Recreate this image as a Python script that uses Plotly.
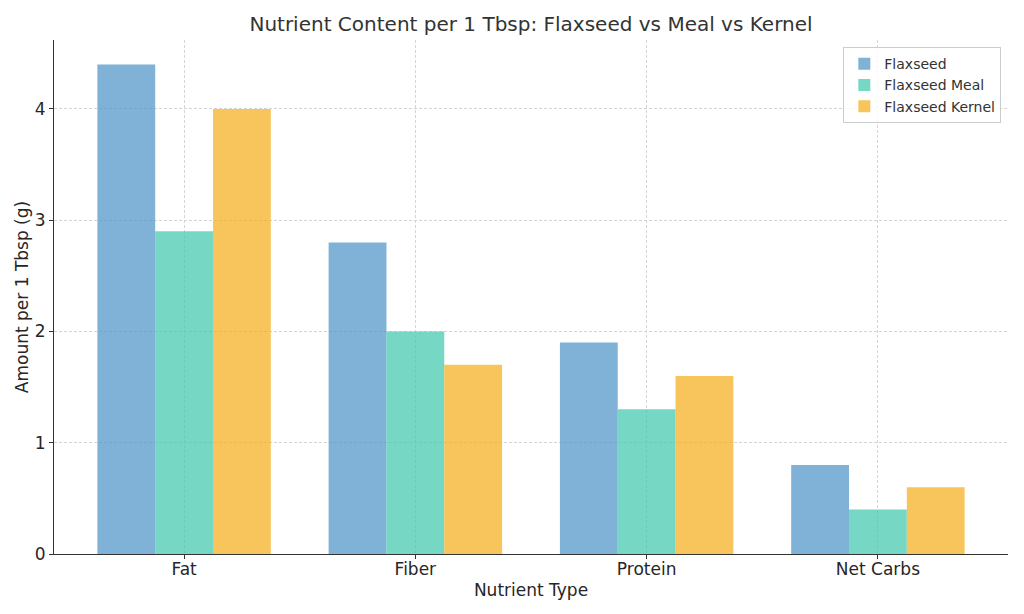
import plotly.graph_objects as go

# values
nutrients = ["Fat", "Fiber", "Protein", "Net Carbs"]
flaxseed = [4.4, 2.8, 1.9, 0.8]
flaxseed_meal = [2.9, 2.0, 1.3, 0.4]
flaxseed_kernel = [4.0, 1.7, 1.6, 0.6]

series = [
    ("Flaxseed", flaxseed, "rgba(84,152,200,0.75)"),
    ("Flaxseed Meal", flaxseed_meal, "rgba(72,202,176,0.75)"),
    ("Flaxseed Kernel", flaxseed_kernel, "rgba(246,178,38,0.75)"),
]

fig = go.Figure()
for name, vals, col in series:
    fig.add_trace(go.Bar(
        x=nutrients, y=vals, name=name,
        marker=dict(color=col, line=dict(width=0)),
    ))

grid = dict(showgrid=True, gridcolor="#d4d4d4", gridwidth=0.8, griddash="3px,2px")

fig.update_layout(
    width=1024, height=614,
    paper_bgcolor="white", plot_bgcolor="white",
    font=dict(family="DejaVu Sans", color="#262626"),
    margin=dict(l=54, r=16, t=40, b=60),
    barmode="group", bargap=0.25, bargroupgap=0,
    title=dict(text="Nutrient Content per 1 Tbsp: Flaxseed vs Meal vs Kernel",
               xref="paper", x=0.5, xanchor="center", y=0.961, yanchor="middle",
               font=dict(size=20, color="#333333")),
    xaxis=dict(
        title=dict(text="Nutrient Type", font=dict(size=17), standoff=6),
        range=[-0.5625, 3.5625],
        showline=True, linecolor="#333333", linewidth=1.2,
        ticks="outside", ticklen=4, tickcolor="#333333",
        tickfont=dict(size=17), ticklabelstandoff=-5,
        **grid,
    ),
    yaxis=dict(
        title=dict(text="Amount per 1 Tbsp (g)", font=dict(size=17), standoff=1),
        range=[0, 4.62], dtick=1,
        showline=True, linecolor="#333333", linewidth=1.2,
        ticks="outside", ticklen=4, tickcolor="#333333",
        tickfont=dict(size=17),
        zeroline=False,
        **grid,
    ),
    legend=dict(
        x=0.993, xanchor="right", y=0.986, yanchor="top",
        bgcolor="rgba(255,255,255,0.8)", bordercolor="#cccccc", borderwidth=1,
        font=dict(size=14, color="#333333"),
    ),
)

fig.write_html("out.html", config={"displayModeBar": False},
               post_script="document.body.style.margin='0';")
